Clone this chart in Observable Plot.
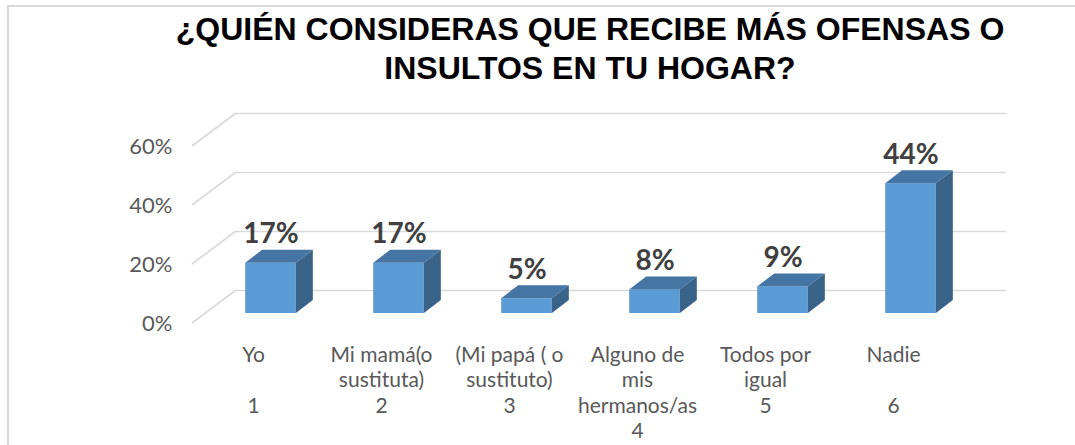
<!DOCTYPE html>
<html>
<head>
<meta charset="utf-8">
<script src="https://cdn.jsdelivr.net/npm/d3@7"></script>
<script src="https://cdn.jsdelivr.net/npm/@observablehq/plot@0.6"></script>
<style>
  html, body { margin: 0; padding: 0; background: #fff; }
  body { width: 1075px; height: 445px; overflow: hidden; position: relative; }
  #frame { position: absolute; left: 7px; top: 5px; width: 1200px; height: 600px;
           border-left: 2px solid #d9d9d9; border-top: 2px solid #d9d9d9; }
  #title { position: absolute; left: 0; top: 0; width: 1075px; height: 100px; box-sizing: border-box;
           padding-top: 10px; padding-left: 105px; text-align: center; white-space: nowrap;
           font-family: "Liberation Sans", Arial, sans-serif; font-weight: 700; font-size: 32px;
           line-height: 39px; color: #000; }
  #chart { position: absolute; left: 0; top: 100px; }
</style>
</head>
<body>
<div id="frame"></div>
<div id="title">¿QUIÉN CONSIDERAS QUE RECIBE MÁS OFENSAS O<br>INSULTOS EN TU HOGAR?</div>
<div id="chart"></div>
<script>
// ---- data ----
const categories = ["Yo", "Mi mamá(o sustituta)", "(Mi papá ( o sustituto)", "Alguno de mis hermanos/as", "Todos por igual", "Nadie"];
const codes = ["1", "2", "3", "4", "5", "6"];
const tickLabels = ["Yo\n\n1", "Mi mamá(o\nsustituta)\n2", "(Mi papá ( o\nsustituto)\n3", "Alguno de\nmis\nhermanos/as\n4", "Todos por\nigual\n5", "Nadie\n\n6"];
const values = [0.17, 0.17, 0.05, 0.08, 0.09, 0.44];
const yTicks = [0, 0.2, 0.4, 0.6];

const data = categories.map((c, i) => ({category: c, code: codes[i], value: values[i]}));

// ---- style constants (3D look) ----
const WALL_DX = 44, WALL_DY = 33;     // depth of the back wall
const BAR_DX = 13.5, BAR_DY = 10;     // bar front face position within the depth
const BAR_DEPTH_X = 17, BAR_DEPTH_Y = 13; // bar depth
const BAR_W = 51;
const W = 1075, H = 345, ML = 192, MR = 113, MT = 46, MB = 122;
const bandW = (W - ML - MR) / categories.length;
const inset = (bandW - BAR_W) / 2;
const pct = d3.format(".0%");
const svgns = "http://www.w3.org/2000/svg";

const chart = Plot.plot({
  width: W,
  height: H,
  marginLeft: ML,
  marginRight: MR,
  marginTop: MT,
  marginBottom: MB,
  style: {fontFamily: "Lato, 'Open Sans', sans-serif", fontSize: "21px", color: "#595959", background: "transparent", overflow: "visible"},
  x: {type: "band", domain: categories, padding: 0, axis: null},
  y: {domain: [0, 0.6], nice: false, axis: null},
  marks: [
    // back wall gridlines
    Plot.ruleY(yTicks, {y: d => d, stroke: "#d9d9d9", strokeWidth: 1.6, dx: WALL_DX, dy: -WALL_DY}),
    // side wall diagonals
    Plot.ruleY(yTicks, {
      y: d => d,
      render(index, scales, values, dimensions) {
        const g = d3.create("svg:g").attr("stroke", "#d9d9d9").attr("stroke-width", 1.6);
        for (const i of index) {
          const y = values.y[i], x = dimensions.marginLeft;
          g.append("line").attr("x1", x).attr("y1", y).attr("x2", x + WALL_DX).attr("y2", y - WALL_DY);
        }
        return g.node();
      }
    }),
    Plot.axisY({ticks: yTicks, tickFormat: pct, tickSize: 0, tickPadding: 20, fontSize: 22, label: null, fill: "#595959"}),
    // 3D bars
    Plot.barY(data, {
      x: "category", y: "value", fill: "#5b9bd5",
      insetLeft: inset, insetRight: inset, dx: BAR_DX, dy: -BAR_DY,
      render(index, scales, values, dimensions, context, next) {
        const g = next(index, scales, values, dimensions, context);
        for (const r of Array.from(g.querySelectorAll("rect"))) {
          const x = +r.getAttribute("x"), y = +r.getAttribute("y");
          const w = +r.getAttribute("width"), h = +r.getAttribute("height");
          const top = document.createElementNS(svgns, "path");
          top.setAttribute("d", `M${x},${y}L${x + BAR_DEPTH_X},${y - BAR_DEPTH_Y}L${x + w + BAR_DEPTH_X},${y - BAR_DEPTH_Y}L${x + w},${y}Z`);
          top.setAttribute("fill", "#4575a3");
          g.appendChild(top);
          const side = document.createElementNS(svgns, "path");
          side.setAttribute("d", `M${x + w},${y}L${x + w + BAR_DEPTH_X},${y - BAR_DEPTH_Y}L${x + w + BAR_DEPTH_X},${y + h - BAR_DEPTH_Y}L${x + w},${y + h}Z`);
          side.setAttribute("fill", "#3a6389");
          g.appendChild(side);
        }
        return g;
      }
    }),
    // value labels
    Plot.text(data, {
      x: "category", y: "value", text: d => pct(d.value),
      dx: BAR_DX, dy: -30, lineAnchor: "bottom",
      fontSize: 28, fontWeight: "bold", fill: "#404040"
    }),
    // category labels (two-level)
    Plot.text(categories, {
      x: d => d, text: (d, i) => tickLabels[i],
      frameAnchor: "bottom", lineAnchor: "top", dy: 20, dx: -4,
      lineHeight: 1.214, fontSize: 21, fill: "#595959"
    })
  ]
});
document.getElementById("chart").appendChild(chart);
</script>
</body>
</html>
